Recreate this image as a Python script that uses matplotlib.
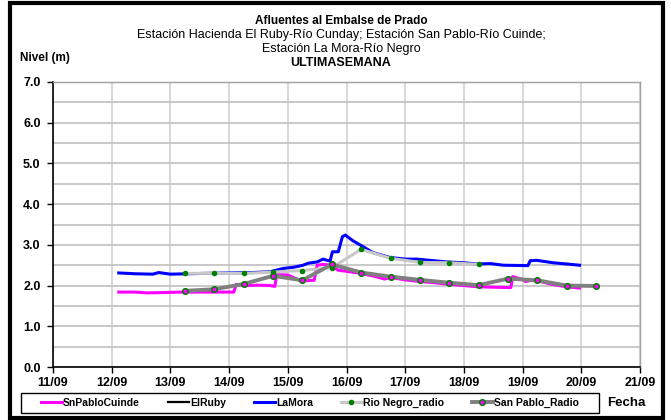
import matplotlib
matplotlib.use("Agg")
import matplotlib.pyplot as plt
from matplotlib.patches import Rectangle

plt.rcParams['font.family'] = ['Liberation Sans', 'DejaVu Sans']

# x values are days of September (fractional days)
tick_days = [11, 12, 13, 14, 15, 16, 17, 18, 19, 20, 21]
tick_labels = ['11/09', '12/09', '13/09', '14/09', '15/09', '16/09',
               '17/09', '18/09', '19/09', '20/09', '21/09']

# SnPabloCuinde (magenta)
snp_t = [12.12, 12.4, 12.6, 12.9, 13.2, 13.6, 14.0, 14.08, 14.12, 14.3, 14.5,
         14.7, 14.78, 14.81, 15.0, 15.2, 15.3, 15.45, 15.5, 15.6, 15.75, 15.85,
         16.0, 16.25, 16.5, 16.65, 16.75, 17.0, 17.25, 17.5, 17.75, 18.0, 18.25,
         18.5, 18.8, 18.83, 19.0, 19.05, 19.15, 19.3, 19.5, 19.75, 19.97]
snp_v = [1.84, 1.84, 1.82, 1.83, 1.84, 1.84, 1.84, 1.84, 2.03, 2.0, 2.01,
         2.0, 1.98, 2.27, 2.26, 2.13, 2.12, 2.13, 2.5, 2.52, 2.5, 2.38,
         2.35, 2.3, 2.22, 2.16, 2.2, 2.14, 2.1, 2.07, 2.03, 2.0, 1.97,
         1.96, 1.95, 2.22, 2.15, 2.1, 2.13, 2.1, 2.03, 1.97, 1.94]

# ElRuby (no data in this week)
ruby_t = []
ruby_v = []

# LaMora (blue)
mora_t = [12.12, 12.4, 12.7, 12.8, 13.0, 13.3, 13.6, 14.0, 14.4, 14.7, 14.92,
          15.1, 15.26, 15.35, 15.5, 15.6, 15.72, 15.76, 15.86, 15.93, 15.98,
          16.11, 16.23, 16.45, 16.74, 17.0, 17.2, 17.42, 17.71, 18.0, 18.22,
          18.45, 18.67, 19.09, 19.13, 19.24, 19.52, 19.75, 19.97]
mora_v = [2.31, 2.29, 2.28, 2.32, 2.28, 2.29, 2.3, 2.31, 2.32, 2.34, 2.42,
          2.45, 2.5, 2.55, 2.58, 2.65, 2.6, 2.83, 2.83, 3.2, 3.24,
          3.1, 3.0, 2.81, 2.69, 2.65, 2.65, 2.62, 2.58, 2.56, 2.53,
          2.54, 2.5, 2.49, 2.61, 2.62, 2.56, 2.53, 2.5]

# Rio Negro_radio (light gray with green dots)
rn_t = [13.25, 13.75, 14.25, 14.75, 15.25, 15.75, 16.25, 16.75, 17.25, 17.75, 18.25]
rn_v = [2.3, 2.3, 2.3, 2.33, 2.37, 2.44, 2.89, 2.67, 2.57, 2.56, 2.52]

# San Pablo_Radio (gray with magenta/green markers)
sp_t = [13.25, 13.75, 14.25, 14.75, 15.25, 15.75, 16.25, 16.75, 17.25, 17.75,
        18.25, 18.75, 19.25, 19.75, 20.25]
sp_v = [1.87, 1.91, 2.04, 2.24, 2.13, 2.52, 2.32, 2.22, 2.14, 2.07,
        2.01, 2.17, 2.13, 2.0, 1.99]

W, H = 671, 420
fig = plt.figure(figsize=(W / 100, H / 100), dpi=100)
ax = fig.add_axes([53 / W, 53 / H, 587 / W, 285 / H])

ax.plot(snp_t, snp_v, color='#ff00ff', lw=2.2, label='SnPabloCuinde', zorder=3)
ax.plot(ruby_t, ruby_v, color='#000000', lw=1.6, label='ElRuby', zorder=3)
ax.plot(mora_t, mora_v, color='#0000ff', lw=2.2, label='LaMora', zorder=4)
ax.plot(rn_t, rn_v, color='#c8c8c8', lw=2.2, marker='o', ms=3,
        mfc='#008000', mec='#008000', label='Rio Negro_radio', zorder=5)
ax.plot(sp_t, sp_v, color='#808080', lw=2.8, marker='o', ms=4,
        mfc='#ff00ff', mec='#008000', mew=1.1, label='San Pablo_Radio', zorder=6)

ax.set_xlim(11, 21)
ax.set_ylim(0, 7)
ax.set_xticks(tick_days)
ax.set_xticklabels(tick_labels, fontweight='bold', fontsize=9)
ax.set_yticks([0, 1, 2, 3, 4, 5, 6, 7])
ax.set_yticklabels(['%.1f' % v for v in range(8)], fontweight='bold', fontsize=9)
ax.set_yticks([0.5 + i for i in range(7)], minor=True)
ax.tick_params(axis='y', which='minor', length=0)
ax.tick_params(axis='both', which='major', direction='out', length=4, width=1)
ax.tick_params(axis='y', pad=5)
ax.tick_params(axis='x', pad=3)

ax.grid(axis='x', which='major', color='#d9d9d9', lw=1.5, zorder=0)
ax.grid(axis='y', which='both', color='#c0c0c0', lw=1.2, zorder=0)
ax.set_axisbelow(True)

for s in ['top', 'right']:
    ax.spines[s].set_color('#a0a0a0')
    ax.spines[s].set_linewidth(1.0)
for s in ['left', 'bottom']:
    ax.spines[s].set_color('black')
    ax.spines[s].set_linewidth(1.2)

# titles (centred over the plot area)
cx = 341 / W
fig.text(cx, 1 - 21 / H, 'Afluentes al Embalse de Prado', ha='center', va='center',
         fontsize=8.5, fontweight='bold')
fig.text(cx, 1 - 35 / H, 'Estación Hacienda El Ruby-Río Cunday; Estación San Pablo-Río Cuinde;',
         ha='center', va='center', fontsize=9)
fig.text(cx, 1 - 49 / H, 'Estación La Mora-Río Negro', ha='center', va='center', fontsize=9)
fig.text(cx, 1 - 63 / H, 'ULTIMASEMANA', ha='center', va='center', fontsize=9,
         fontweight='bold')
fig.text(20 / W, 1 - 58 / H, 'Nivel (m)', ha='left', va='center', fontsize=8.5,
         fontweight='bold')
fig.text(607 / W, 1 - 403 / H, 'Fecha', ha='left', va='center', fontsize=9.5,
         fontweight='bold')

# legend: entries without frame, box drawn separately
leg = fig.legend(loc='center', bbox_to_anchor=(310 / W, 1 - 403 / H), ncol=5,
                 prop={'size': 7.5, 'weight': 'bold'}, frameon=False,
                 handlelength=2.0, columnspacing=2.7, handletextpad=0.1,
                 borderpad=0, borderaxespad=0, numpoints=1)
fig.patches.append(Rectangle((21 / W, 1 - 413 / H), 578 / W, 20 / H,
                             transform=fig.transFigure, fill=False,
                             edgecolor='black', lw=1.0))

# outer frame
fig.patches.append(Rectangle((10 / W, 2 / H), 653 / W, 415 / H,
                             transform=fig.transFigure, fill=False,
                             edgecolor='black', lw=3))

fig.savefig('out.png', dpi=100)
